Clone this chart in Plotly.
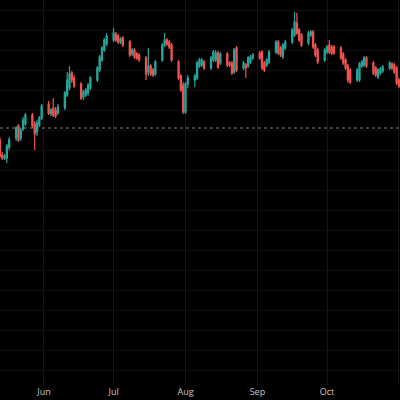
import pandas as pd
import plotly.graph_objects as go

dates = pd.bdate_range("2024-05-13", "2024-11-01")

open_ = [185, 177.5, 176, 176, 181.5,
         186, 192, 186, 190.5, 193,
         197.5, 193, 189, 192.5, 196,
         203, 198, 201, 200, 198.5,
         201, 207.5, 211, 218.5, 216,
         213, 206.5, 207.5, 208.5, 211,
         215, 220, 225, 230, 233,
         235, 238, 237, 234, 236,
         234, 228, 230, 228, 227.5,
         226, 219, 222, 220, 218,
         225, 232.5, 235, 234, 232.5,
         224, 217, 212.5, 199, 213,
         215, 216, 222, 222.5, 224,
         221, 225, 225, 228.5, 223.5,
         228, 223.5, 223.5, 219, 231,
         221, 222.5, 222, 224, 226,
         228.5, 229, 223.5, 222.5, 224,
         229, 234, 231, 226.5, 231,
         234, 237.5, 243.5, 240, 237.5,
         233.5, 237.5, 239, 232.5, 230,
         225, 229, 232.5, 231.5, 231.5,
         231, 228, 225, 222, 220,
         215, 215, 222, 222.5, 226,
         223.5, 221, 216.5, 218.5, 219.5,
         221, 223, 222.5, 221, 215]
high = [186.5, 179, 178, 183, 186.5,
        192, 193, 191, 196.5, 198.5,
        198.5, 194.5, 195, 197, 203,
        204.5, 201, 206, 201.5, 203,
        209.5, 219, 222, 219.5, 217.5,
        214, 210, 211, 213.5, 217,
        222, 227.5, 232, 236, 238.5,
        241, 239, 238, 236.5, 237,
        235, 231, 231, 229, 228.5,
        227, 231, 223, 221, 225,
        233.5, 238.5, 236, 235, 233.5,
        225, 218, 214, 214, 217.5,
        218, 224.5, 226, 226, 225,
        227, 230, 230, 229.5, 229,
        229, 224.5, 224.5, 231, 232,
        224.5, 223.5, 227, 227.5, 228.5,
        229.5, 230, 224.5, 226, 230,
        235, 235, 232, 233.5, 235,
        241, 249, 248.5, 241, 238.5,
        239.5, 240, 240, 233.5, 231,
        231, 232.5, 235, 232.5, 232.5,
        232, 229, 226, 223, 221,
        221, 224, 225, 227, 227,
        224.5, 222, 221, 221.5, 222.5,
        224.5, 224, 223.5, 222, 216]
low = [176, 175, 175, 173.5, 180,
       184.5, 184, 184.5, 189.5, 192,
       191, 180, 187, 191.5, 195,
       197.5, 197, 196.5, 196, 197.5,
       200, 206.5, 210, 213.5, 211,
       205, 205, 206.5, 207, 210,
       214, 219, 224, 229, 232,
       234, 234, 233, 233, 231.5,
       226.5, 227, 225.5, 225, 224,
       215, 217, 217, 216.5, 217,
       224, 231.5, 232, 230.5, 224,
       215, 209, 198, 198, 211,
       211.5, 215, 221, 221.5, 220,
       220, 224, 224, 220.5, 222.5,
       221.5, 221.5, 217.5, 218, 219,
       220, 216, 221, 223, 225,
       225, 220, 219, 221.5, 223,
       228, 227.5, 226.5, 225.5, 230,
       233, 236.5, 237.5, 234, 231.5,
       232.5, 236.5, 230.5, 226.5, 223,
       224, 228, 228, 227.5, 227.5,
       225, 222.5, 220, 213.5, 213,
       214, 214, 221, 221.5, 221,
       217.5, 216.5, 215.5, 217.5, 218.5,
       220, 220, 218, 212.5, 211]
close = [177, 176, 177, 182, 185,
         191, 185, 190, 195, 197.5,
         192, 188, 193.5, 196, 202,
         198.5, 200, 197.5, 197, 201.5,
         208.5, 215, 218, 215, 212,
         206, 209, 210, 212.5, 216,
         221, 226.5, 231, 235, 237,
         238.5, 235, 234, 235.5, 232.5,
         227.5, 230, 226.5, 226, 225,
         218, 222, 218, 217.5, 224,
         232.5, 235, 233, 231.5, 225,
         216, 210, 199, 213, 216,
         217, 223.5, 225, 225, 221,
         226, 229, 228.5, 221.5, 228,
         222.5, 222.5, 218.5, 230, 220,
         223.5, 221, 226, 226.5, 227.5,
         226, 221, 220, 225, 229,
         234, 228.5, 227.5, 232.5, 234,
         240, 244, 238.5, 235, 232.5,
         238.5, 239, 231.5, 227.5, 224,
         230, 231.5, 229, 228.5, 228.5,
         226, 223.5, 221, 215, 214,
         220, 223, 224, 226, 222,
         218.5, 217.5, 220, 220.5, 221.5,
         223.5, 221, 219, 213.5, 212]

reference_level = 191
month_ticks = ["2024-06-01", "2024-07-01", "2024-08-01", "2024-09-01", "2024-10-01", "2024-11-01"]
month_labels = ["Jun", "Jul", "Aug", "Sep", "Oct", "Nov"]

fig = go.Figure(go.Candlestick(
    x=dates, open=open_, high=high, low=low, close=close,
    increasing=dict(line=dict(color="#26a69a", width=1.2), fillcolor="#26a69a"),
    decreasing=dict(line=dict(color="#ef5350", width=1.2), fillcolor="#ef5350"),
    whiskerwidth=0,
    showlegend=False,
))

fig.add_hline(y=reference_level, line=dict(color="#808080", width=1, dash="3px,3px"))

fig.update_layout(
    width=400, height=400,
    margin=dict(l=0, r=0, t=0, b=15),
    paper_bgcolor="#000000",
    plot_bgcolor="#000000",
    font=dict(family="Open Sans, sans-serif", color="#c8c8c8", size=9),
    xaxis=dict(
        range=["2024-05-13 01:00", "2024-11-01 11:00"],
        rangeslider=dict(visible=False),
        tickvals=month_ticks, ticktext=month_labels,
        showgrid=True, gridcolor="#161616", gridwidth=1,
        zeroline=False, showline=False, ticks="",
    ),
    yaxis=dict(
        range=[62.5, 255],
        dtick=10, tick0=0,
        showgrid=True, gridcolor="#0f0f0f", gridwidth=1,
        showticklabels=False, zeroline=False, showline=False,
    ),
)

fig.write_html(
    "out.html",
    config={"displayModeBar": False},
    post_script="document.body.style.margin='0';document.body.style.background='#000';",
)
